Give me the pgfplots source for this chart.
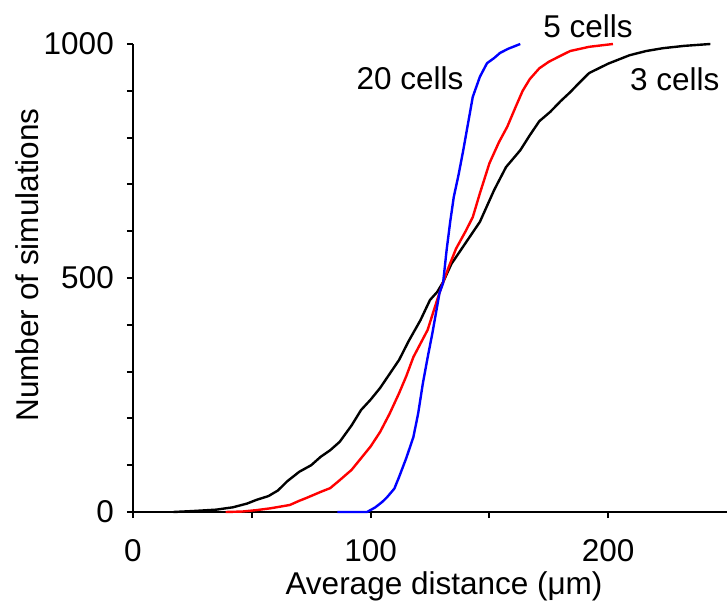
\documentclass[border=0pt]{standalone}
\usepackage{pgfplots}
\pgfplotsset{compat=1.18}
\usepackage{fontspec}
\setmainfont{Liberation Sans}
\begin{document}
\fontsize{31.5bp}{36bp}\selectfont
\begin{tikzpicture}
\begin{axis}[
  at={(0,0)}, anchor=south west,
  scale only axis, width=594bp, height=468bp,
  xmin=0, xmax=250, ymin=0, ymax=1000,
  axis lines=left, axis line style={-, line width=2bp},
  tick align=outside, major tick length=6bp, minor tick length=6bp,
  tick style={black, line width=2bp},
  xtick={0,100,200}, minor xtick={50,150},
  ytick={0,500,1000}, minor ytick={100,200,300,400,600,700,800,900},
  /pgf/number format/assume math mode=true,
  /pgf/number format/1000 sep={},
  scaled ticks=false,
  tick label style={font=\fontsize{31.5bp}{36bp}\selectfont},
  xticklabel style={inner sep=0pt, anchor=north, yshift=-21bp},
  yticklabel style={inner sep=0pt, anchor=east, xshift=-13bp},
  xlabel={Average distance (μm)},
  ylabel={Number of simulations},
  every axis x label/.style={at={(axis description cs:0.5236,-0.128)}, anchor=north, inner sep=0pt},
  every axis y label/.style={at={(axis description cs:-0.1785,0.528)}, rotate=90, anchor=center, inner sep=0pt},
  clip=false,
]
\addplot[black, line width=2.4bp, line join=round] coordinates {
(17,0)(25,2)(35,5)(42,10)(48,18)(52,26)(57,34)(61,46)(65,66)(70,86)(75,100)(79,118)(83,132)(87,150)(92,185)(96,218)(100,240)(104,265)(108,295)(112,325)(116,365)(121,410)(125,453)(128,470)(130.5,491)(134,530)(138,560)(142,590)(146,620)(152,688)(157,737)(163,773)(167,805)(171,835)(175.6,855)(180,878)(184,897)(188,918)(192,938)(200,958)(209,976)(216,985)(223,991)(232,996)(243,1000)
};
\addplot[red, line width=2.4bp, line join=round] coordinates {
(39,0)(46,1)(52,4)(58,8)(66,15)(70,24)(73,30)(79,43)(83,51)(87,68)(92,90)(96,115)(100,140)(104,171)(108,210)(112,254)(115,290)(118,331)(121,360)(124,389)(128,453)(130.5,491)(133,525)(136,563)(140,600)(143,630)(146,681)(150,745)(154,790)(157.5,823)(161,865)(164,900)(167,925)(171,948)(175,962)(180,975)(184,985)(192,994)(202,1000)
};
\addplot[blue, line width=2.4bp, line join=round] coordinates {
(86,0)(98.5,0)(102,10)(105,22)(107,32)(110,50)(112,75)(115,115)(118,160)(120,210)(122,275)(124,330)(126,382)(129,468)(130.5,489)(132,560)(133.5,620)(135,673)(137,720)(139,773)(141,830)(143,887)(146,930)(149,959)(152,970)(154.5,981)(158,990)(163,1000)
};
\node[inner sep=0pt, anchor=center] at (axis cs:116.6,926) {20 cells};
\node[inner sep=0pt, anchor=center] at (axis cs:191.5,1038.5) {5 cells};
\node[inner sep=0pt, anchor=center] at (axis cs:228,924) {3 cells};
\end{axis}
\pgfresetboundingbox
\path (-133bp,-93bp) rectangle (594bp,512bp);
\end{tikzpicture}
\end{document}
